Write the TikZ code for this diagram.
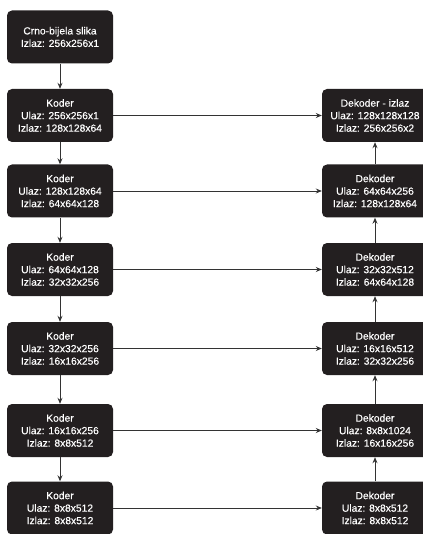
\documentclass[tikz,border=0pt]{standalone}
\usepackage{fontspec}
\setmainfont{Liberation Sans}
\newfontfamily\boxfont{Liberation Sans}[FakeBold=0.35]
\usetikzlibrary{arrows.meta}
\definecolor{boxfill}{HTML}{231F20}
\definecolor{linec}{HTML}{333333}
\begin{document}
\begin{tikzpicture}[x=1pt,y=-1pt,
  blk/.style={draw=none,fill=boxfill,rounded corners=5pt,minimum width=106pt,minimum height=53pt,
    text=white,align=center,font=\boxfont\fontsize{10.3}{12.5}\selectfont,inner sep=0pt},
  conn/.style={draw=linec,line width=0.9pt,-{Stealth[length=6pt,width=5pt]}}]
\useasboundingbox (0,0) rectangle (422,534);
\node[blk] (in) at (60,37) {Crno-bijela slika\\Izlaz: 256x256x1};
\node[blk] (e1) at (60,115.5) {Koder\\Ulaz: 256x256x1\\Izlaz: 128x128x64};
\node[blk] (e2) at (60,191) {Koder\\Ulaz: 128x128x64\\Izlaz: 64x64x128};
\node[blk] (e3) at (60,269.5) {Koder\\Ulaz: 64x64x128\\Izlaz: 32x32x256};
\node[blk] (e4) at (60,348.5) {Koder\\Ulaz: 32x32x256\\Izlaz: 16x16x256};
\node[blk] (e5) at (60,430.5) {Koder\\Ulaz: 16x16x256\\Izlaz: 8x8x512};
\node[blk] (e6) at (60,508) {Koder\\Ulaz: 8x8x512\\Izlaz: 8x8x512};
\node[blk] (d1) at (375,115.5) {Dekoder - izlaz\\Ulaz: 128x128x128\\Izlaz: 256x256x2};
\node[blk] (d2) at (375,191) {Dekoder\\Ulaz: 64x64x256\\Izlaz: 128x128x64};
\node[blk] (d3) at (375,269.5) {Dekoder\\Ulaz: 32x32x512\\Izlaz: 64x64x128};
\node[blk] (d4) at (375,348.5) {Dekoder\\Ulaz: 16x16x512\\Izlaz: 32x32x256};
\node[blk] (d5) at (375,430.5) {Dekoder\\Ulaz: 8x8x1024\\Izlaz: 16x16x256};
\node[blk] (d6) at (375,508) {Dekoder\\Ulaz: 8x8x512\\Izlaz: 8x8x512};
\draw[conn] (in) -- (e1);
\draw[conn] (e1) -- (e2);
\draw[conn] (e2) -- (e3);
\draw[conn] (e3) -- (e4);
\draw[conn] (e4) -- (e5);
\draw[conn] (e5) -- (e6);
\draw[conn] (d6) -- (d5);
\draw[conn] (d5) -- (d4);
\draw[conn] (d4) -- (d3);
\draw[conn] (d3) -- (d2);
\draw[conn] (d2) -- (d1);
\draw[conn] (e1) -- (d1);
\draw[conn] (e2) -- (d2);
\draw[conn] (e3) -- (d3);
\draw[conn] (e4) -- (d4);
\draw[conn] (e5) -- (d5);
\draw[conn] (e6) -- (d6);
\end{tikzpicture}
\end{document}
